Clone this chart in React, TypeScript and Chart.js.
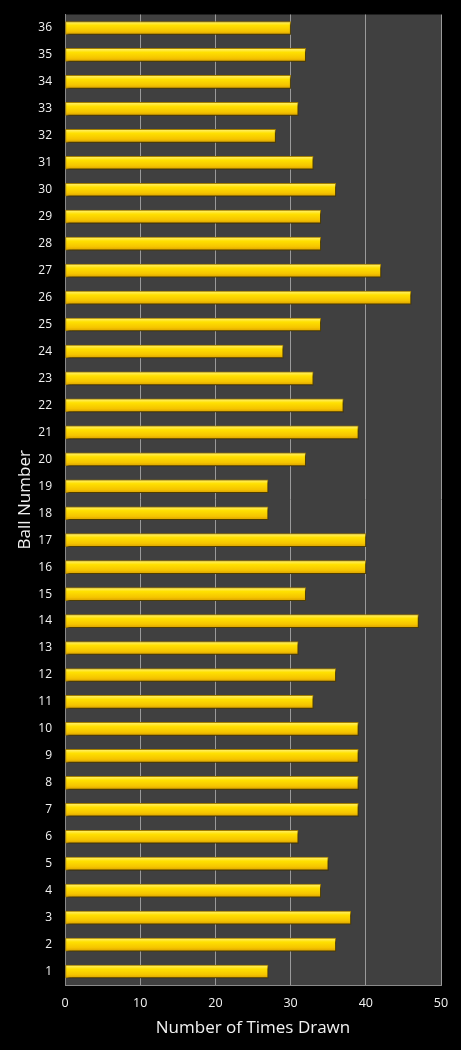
import { useEffect, useRef } from "react";
import { Chart, registerables } from "chart.js";

Chart.register(...registerables);

const ballNumbers = [
  "1", "2", "3", "4", "5", "6", "7", "8", "9", "10", "11", "12",
  "13", "14", "15", "16", "17", "18", "19", "20", "21", "22", "23", "24",
  "25", "26", "27", "28", "29", "30", "31", "32", "33", "34", "35", "36",
];
const timesDrawn = [
  27, 36, 38, 34, 35, 31, 39, 39, 39, 39, 33, 36,
  31, 47, 32, 40, 40, 27, 27, 32, 39, 37, 33, 29,
  34, 46, 42, 34, 34, 36, 33, 28, 31, 30, 32, 30,
];
const xMin = 0;
const xMax = 50;
const xStep = 10;
const xTitle = "Number of Times Drawn";
const yTitle = "Ball Number";

const plotBg = {
  id: "plotBg",
  beforeDraw(chart: any) {
    const { ctx, chartArea } = chart;
    if (!chartArea) return;
    ctx.save();
    ctx.fillStyle = "#404040";
    ctx.fillRect(chartArea.left, chartArea.top, chartArea.right - chartArea.left, chartArea.bottom - chartArea.top);
    ctx.restore();
  },
  beforeDatasetDraw(chart: any) {
    const ctx = chart.ctx;
    ctx.save();
    ctx.shadowColor = "rgba(0,0,0,0.55)";
    ctx.shadowOffsetX = 2;
    ctx.shadowOffsetY = 2;
    ctx.shadowBlur = 2;
  },
  afterDatasetDraw(chart: any) {
    chart.ctx.restore();
  },
};

export default function App() {
  const ref = useRef<HTMLCanvasElement | null>(null);

  useEffect(() => {
    if (!ref.current) return;
    const font = "'Open Sans', 'DejaVu Sans', sans-serif";
    const chart = new Chart(ref.current, {
      type: "bar",
      data: {
        labels: ballNumbers,
        datasets: [
          {
            data: timesDrawn,
            barThickness: 13,
            borderColor: "#A37F00",
            borderWidth: 1,
            borderSkipped: false,
            backgroundColor: (c: any) => {
              const ch = c.chart;
              const y = ch.scales?.y;
              if (!ch.chartArea || !y || c.dataIndex === undefined) return "#FFD800";
              const cy = y.getPixelForValue(c.dataIndex);
              const g = ch.ctx.createLinearGradient(0, cy - 6.5, 0, cy + 6.5);
              g.addColorStop(0, "#FFF27A");
              g.addColorStop(0.3, "#FFE000");
              g.addColorStop(0.75, "#F5C400");
              g.addColorStop(1, "#D9A000");
              return g;
            },
          },
        ],
      },
      options: {
        indexAxis: "y",
        animation: false,
        responsive: false,
        maintainAspectRatio: false,
        layout: { padding: { left: 0, right: 20, top: 14.5, bottom: 0 } },
        plugins: { legend: { display: false }, tooltip: { enabled: false } },
        scales: {
          x: {
            min: xMin,
            max: xMax,
            ticks: {
              stepSize: xStep,
              color: "#F2F2F2",
              font: { family: font, size: 12.5 },
              padding: 11,
            },
            grid: { color: "#9A9A9A", lineWidth: 1, drawTicks: false },
            border: { color: "#8A8A8A", width: 1 },
            title: {
              display: true,
              text: xTitle,
              color: "#F2F2F2",
              font: { family: font, size: 17 },
              padding: { top: 0, bottom: 12 },
            },
            afterFit: (s: any) => {
              s.height = 65;
              s.paddingLeft = 0;
              s.paddingRight = 0;
            },
          },
          y: {
            reverse: true,
            ticks: {
              color: "#F2F2F2",
              font: { family: font, size: 12 },
              padding: 13,
              autoSkip: false,
            },
            grid: { display: false, drawTicks: false },
            border: { color: "#8A8A8A", width: 1 },
            title: {
              display: true,
              text: yTitle,
              color: "#F2F2F2",
              font: { family: font, size: 17 },
              padding: { top: 15, bottom: 0 },
            },
            afterFit: (s: any) => {
              s.width = 65;
              s.paddingTop = 0;
              s.paddingBottom = 0;
            },
          },
        },
      },
      plugins: [plotBg],
    });
    return () => chart.destroy();
  }, []);

  return (
    <div style={{ position: "fixed", left: 0, top: 0, width: 461, height: 1050, background: "#000" }}>
      <canvas ref={ref} width={461} height={1050} style={{ display: "block", width: 461, height: 1050 }} />
    </div>
  );
}
